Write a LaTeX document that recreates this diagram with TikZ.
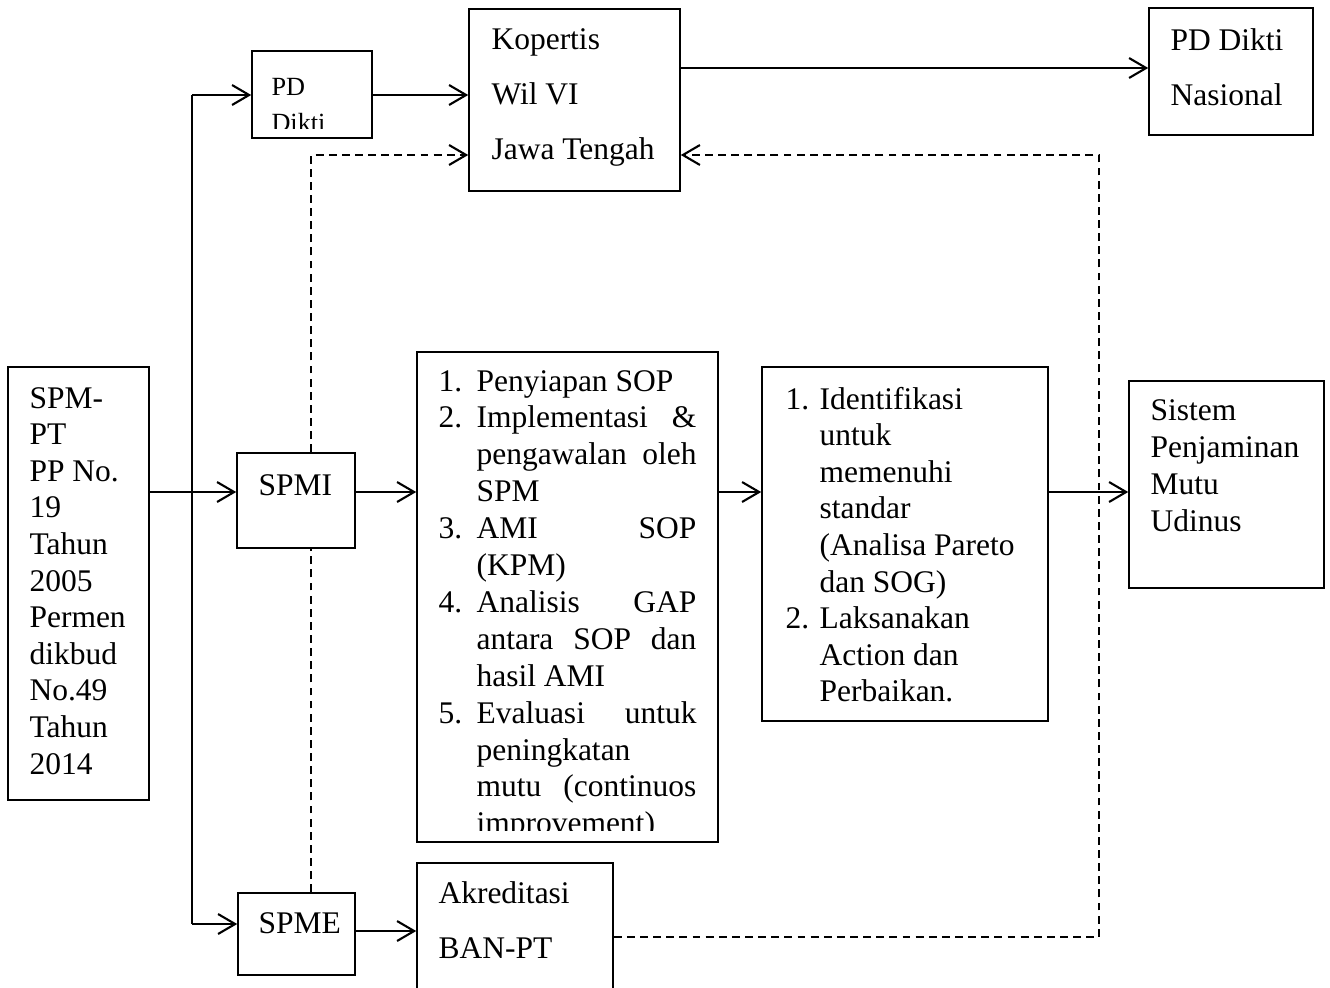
\documentclass[tikz,border=0pt]{standalone}
\usepackage{fontspec}
\setmainfont{Liberation Serif}
\usetikzlibrary{arrows.meta,fit}

% one drawing unit = one pixel of the layout grid
\newcommand{\jline}[1]{\makebox[83.8pt][s]{#1}}

\begin{document}
\begin{tikzpicture}[x=0.381pt,y=-0.381pt,
  box/.style={draw,line width=0.6pt,inner sep=0pt,rectangle},
  txt/.style={inner sep=0pt,anchor=base west,font=\fontsize{12pt}{14pt}\selectfont},
  small/.style={inner sep=0pt,anchor=base west,font=\fontsize{10pt}{12pt}\selectfont},
  conn/.style={line width=0.8pt},
  arr/.style={line width=0.8pt,-{Straight Barb[length=6.5pt,width=7.6pt,line width=0.8pt]}},
  dashline/.style={line width=0.8pt,dash pattern=on 3pt off 2pt}]
\useasboundingbox (0,0) rectangle (1330,987);
\fill[white] (0,0) rectangle (1330,987);

% ---- boxes ----
\node[box,fit={(8,367)(149,800)}]    (spmpt) {};
\node[box,fit={(252,51)(372,138)}]   (pd) {};
\node[box,fit={(469,9)(680,191)}]    (kop) {};
\node[box,fit={(1149,8)(1313,135)}]  (pdn) {};
\node[box,fit={(237,453)(355,548)}]  (spmi) {};
\node[box,fit={(417,352)(718,842)}]  (list) {};
\node[box,fit={(762,367)(1048,721)}] (iden) {};
\node[box,fit={(1129,381)(1324,588)}] (sis) {};
\node[box,fit={(238,893)(355,975)}]  (spme) {};
\node[box,fit={(417,863)(613,1000)}] (akr) {};

% ---- SPM-PT ----
\foreach \t [count=\k from 0] in {SPM-,PT,PP No.,19,Tahun,2005,Permen,dikbud,No.49,Tahun,2014}
  \node[txt] (s\k) at (29,408+36.6*\k) {\t};

% ---- PD Dikti ----
\node[small] (pd1) at (271,95) {PD};
\begin{scope}
  \clip (252,51) rectangle (372,128);
  \node[small] (pd2) at (271,131) {Dikti};
\end{scope}

% ---- Kopertis ----
\node[txt] (k1) at (491,49)  {Kopertis};
\node[txt] (k2) at (491,104) {Wil VI};
\node[txt] (k3) at (491,159) {Jawa Tengah};

% ---- PD Dikti Nasional ----
\node[txt] (n1) at (1170,50)  {PD Dikti};
\node[txt] (n2) at (1170,105) {Nasional};

% ---- SPMI / SPME ----
\node[txt] (mi) at (258,495) {SPMI};
\node[txt] (me) at (258,933) {SPME};

% ---- SPMI activities ----
\node[txt] (l1n) at (438,391)          {1.};
\node[txt] (l1)  at (476,391)          {Penyiapan SOP};
\node[txt] (l2n) at (438,391+36.9)     {2.};
\node[txt] (l2)  at (476,391+36.9)     {\jline{Implementasi \&}};
\node[txt] (l3)  at (476,391+2*36.9)   {\jline{pengawalan oleh}};
\node[txt] (l4)  at (476,391+3*36.9)   {SPM};
\node[txt] (l5n) at (438,391+4*36.9)   {3.};
\node[txt] (l5)  at (476,391+4*36.9)   {\jline{AMI SOP}};
\node[txt] (l6)  at (476,391+5*36.9)   {(KPM)};
\node[txt] (l7n) at (438,391+6*36.9)   {4.};
\node[txt] (l7)  at (476,391+6*36.9)   {\jline{Analisis GAP}};
\node[txt] (l8)  at (476,391+7*36.9)   {\jline{antara SOP dan}};
\node[txt] (l9)  at (476,391+8*36.9)   {hasil AMI};
\node[txt] (l10n) at (438,391+9*36.9)  {5.};
\node[txt] (l10) at (476,391+9*36.9)   {\jline{Evaluasi untuk}};
\node[txt] (l11) at (476,391+10*36.9)  {peningkatan};
\node[txt] (l12) at (476,391+11*36.9)  {\jline{mutu (continuos}};
\begin{scope}
  \clip (417,352) rectangle (718,830);
  \node[txt] (l13) at (476,391+12*36.9) {improvement)};
\end{scope}

% ---- follow-up actions ----
\node[txt] (i1n) at (785,409)        {1.};
\node[txt] (i0)  at (819,409)        {Identifikasi};
\node[txt] (i1)  at (819,409+36.6)   {untuk};
\node[txt] (i2)  at (819,409+2*36.6) {memenuhi};
\node[txt] (i3)  at (819,409+3*36.6) {standar};
\node[txt] (i4)  at (819,409+4*36.6) {(Analisa Pareto};
\node[txt] (i5)  at (819,409+5*36.6) {dan SOG)};
\node[txt] (i2n) at (785,409+6*36.6) {2.};
\node[txt] (i6)  at (819,409+6*36.6) {Laksanakan};
\node[txt] (i7)  at (819,409+7*36.6) {Action dan};
\node[txt] (i8)  at (819,409+8*36.6) {Perbaikan.};

% ---- Sistem Penjaminan Mutu ----
\foreach \t [count=\k from 0] in {Sistem,Penjaminan,Mutu,Udinus}
  \node[txt] (u\k) at (1150,420+37*\k) {\t};

% ---- Akreditasi ----
\node[txt] (a1) at (438,903) {Akreditasi};
\node[txt] (a2) at (438,958) {BAN-PT};

% ---- connectors ----
\coordinate (jt) at (192,95);
\coordinate (jb) at (192,924);
\coordinate (row) at (0,492);
\coordinate (dl) at (311,155);
\coordinate (dr) at (1099,155);
\coordinate (drb) at (1099,937);

\draw[conn] (jt) -- (jb);
\draw[arr] (jt) -- (pd.west |- jt);
\draw[arr] (jb) -- (spme.west |- jb);
\draw[arr] (spmpt.east |- row) -- (spmi.west |- row);
\draw[arr] (spmi.east |- row) -- (list.west |- row);
\draw[arr] (list.east |- row) -- (iden.west |- row);
\draw[arr] (iden.east |- row) -- (sis.west |- row);
\draw[arr] (pd.east |- jt) -- (kop.west |- jt);
\draw[arr] (kop.east |- 0,68) -- (pdn.west |- 0,68);
\draw[arr] (spme.east |- 0,931) -- (akr.west |- 0,931);

\draw[dashline] (spme.north -| dl) -- (spmi.south -| dl);
\draw[dashline,arr] (spmi.north -| dl) -- (dl) -- (kop.west |- dl);
\draw[dashline,arr] (akr.east |- drb) -- (drb) -- (dr) -- (kop.east |- dr);
\end{tikzpicture}
\end{document}
